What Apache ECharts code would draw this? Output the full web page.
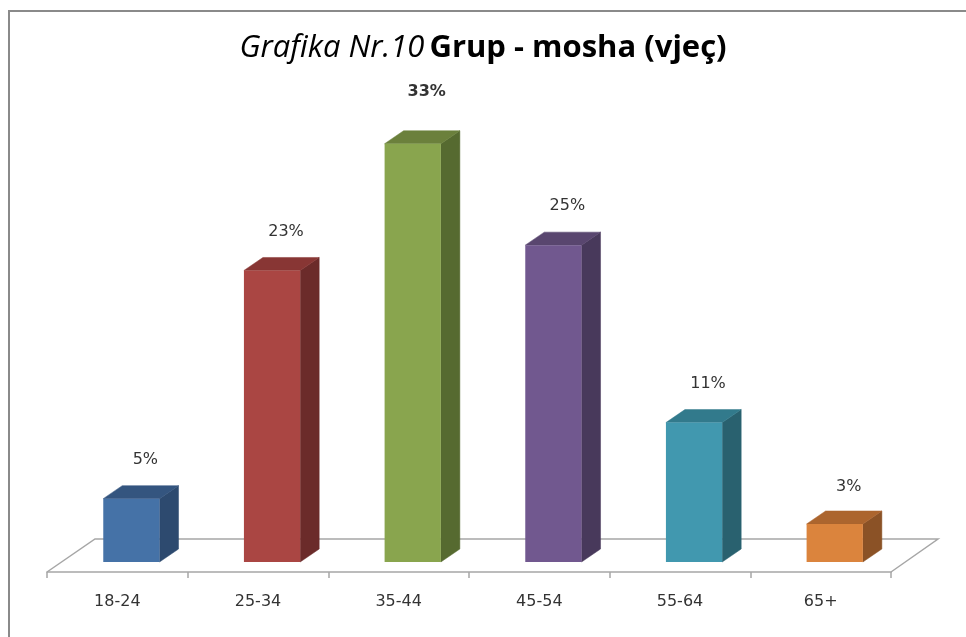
<!DOCTYPE html>
<html>
<head>
<meta charset="utf-8">
<script src="https://cdn.jsdelivr.net/npm/echarts@6/dist/echarts.min.js"></script>
<style>html,body{margin:0;padding:0;background:#fff}#c{width:966px;height:637px}</style>
</head>
<body>
<div id="c"></div>
<script>
const categories = ['18-24', '25-34', '35-44', '45-54', '55-64', '65+'];
const values = [5, 23, 33, 25, 11, 3];
const valueLabels = ['5%', '23%', '33%', '25%', '11%', '3%'];

// styling (not data)
const frontColors = ['#4572A7', '#AA4643', '#89A54E', '#71588F', '#4198AF', '#DB843D'];
const topColors   = ['#34557F', '#883634', '#6B803C', '#59466F', '#327A8C', '#AC652E'];
const sideColors  = ['#2D4A6F', '#6B2B2A', '#566A30', '#48395B', '#29616F', '#8B5226'];
const labelBold   = [false, false, true, false, false, false];
const labelLift   = [39, 39, 52, 39, 39, 37];

const chart = echarts.init(document.getElementById('c'));

function renderBar(params, api) {
  const i = api.value(0), v = api.value(1);
  const base = api.coord([i, 0]);
  const top = api.coord([i, v]);
  const bw = api.size([1, 0])[0];
  const x0 = base[0] - bw * 0.1, w = bw * 0.4;
  const yb = base[1], yt = top[1];
  const dx = bw * 0.135, dy = 13;
  const idx = params.dataIndex;
  return {
    type: 'group',
    children: [
      { type: 'polygon', shape: { points: [[x0 + w, yt], [x0 + w + dx, yt - dy], [x0 + w + dx, yb - dy], [x0 + w, yb]] },
        style: { fill: sideColors[idx], stroke: sideColors[idx], lineWidth: 0.5 } },
      { type: 'polygon', shape: { points: [[x0, yt], [x0 + dx, yt - dy], [x0 + w + dx, yt - dy], [x0 + w, yt]] },
        style: { fill: topColors[idx], stroke: topColors[idx], lineWidth: 0.5 } },
      { type: 'rect', shape: { x: x0, y: yt, width: w, height: yb - yt },
        style: { fill: frontColors[idx] } },
      { type: 'text', x: base[0] + 28, y: yt - labelLift[idx],
        style: { text: valueLabels[idx], fill: '#333', font: (labelBold[idx] ? 'bold ' : '') + '16px "DejaVu Sans"', align: 'center', verticalAlign: 'middle' } }
    ]
  };
}

function renderFloor(params, api) {
  const n = categories.length;
  const bw = api.size([1, 0])[0];
  const p0 = api.coord([0, 0]);
  const p1 = api.coord([n - 1, 0]);
  const xl = p0[0] - bw / 2, xr = p1[0] + bw / 2, y0 = p0[1];
  return {
    type: 'polyline',
    shape: { points: [[xl, y0 + 10], [xl + 48, y0 - 23], [xr + 47, y0 - 23], [xr, y0 + 10]] },
    style: { stroke: '#A6A6A6', lineWidth: 1.5, fill: null }
  };
}

chart.setOption({
  backgroundColor: '#fff',
  animation: false,
  title: {
    text: '{i|Grafika Nr.10} {b|Grup - mosha (vjeç)}',
    left: 'center',
    top: 28,
    textStyle: {
      rich: {
        i: { fontFamily: 'Open Sans', fontStyle: 'italic', fontWeight: 'normal', fontSize: 31, color: '#000' },
        b: { fontFamily: 'Open Sans', fontWeight: 'bold', fontSize: 31, color: '#000' }
      }
    }
  },
  graphic: [{
    type: 'rect', shape: { x: 9, y: 11, width: 1000, height: 700 },
    style: { fill: null, stroke: '#8A8A8A', lineWidth: 2 }, silent: true
  }],
  grid: { left: 47, right: 75, top: 55, bottom: 75 },
  xAxis: {
    type: 'category',
    data: categories,
    offset: 10,
    axisLine: { onZero: false, lineStyle: { color: '#A6A6A6', width: 1.5 } },
    axisTick: { show: true, length: 6, lineStyle: { color: '#A6A6A6', width: 1.5 } },
    axisLabel: { margin: 22, fontFamily: 'DejaVu Sans', fontSize: 16, color: '#333' }
  },
  yAxis: { type: 'value', min: 0, max: 40, show: false, splitLine: { show: false } },
  series: [
    { type: 'custom', z: 1, data: [[0, 0]], renderItem: renderFloor, silent: true },
    { type: 'custom', z: 2, data: values.map((v, i) => [i, v]), renderItem: renderBar, encode: { x: 0, y: 1 } }
  ]
});
</script>
</body>
</html>
